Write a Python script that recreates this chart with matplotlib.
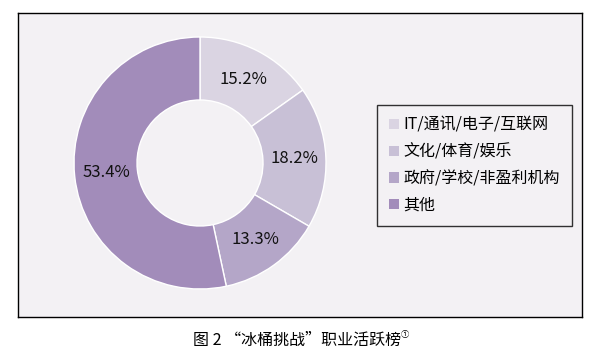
import matplotlib
matplotlib.use("Agg")
import matplotlib.pyplot as plt

# Data
categories = ["IT/通讯/电子/互联网", "文化/体育/娱乐", "政府/学校/非盈利机构", "其他"]
shares = [15.2, 18.2, 13.3, 53.4]
colors = ["#DAD4E2", "#C8C0D6", "#B4A6C8", "#A28CBA"]
caption = "图 2 “冰桶挑战”职业活跃榜"

plt.rcParams["font.family"] = ["Noto Sans CJK SC", "DejaVu Sans"]

W, H = 590, 364
fig = plt.figure(figsize=(W / 100, H / 100), dpi=100)
fig.patch.set_facecolor("white")

# Panel background with border
bg = fig.add_axes([18 / W, 1 - 317 / H, (582 - 18) / W, (317 - 13) / H], zorder=0)
bg.set_facecolor("#F3F1F4")
bg.set_xticks([])
bg.set_yticks([])
for s in bg.spines.values():
    s.set_linewidth(1.0)
    s.set_color("black")

# Donut
cx, cy, r = 200, 163, 126
ax = fig.add_axes([(cx - r) / W, (H - cy - r) / H, 2 * r / W, 2 * r / H], zorder=1)
ax.set_facecolor("none")
wedges, texts, autotexts = ax.pie(
    shares,
    colors=colors,
    startangle=90,
    counterclock=False,
    radius=1,
    autopct=lambda p: "",
    pctdistance=0.75,
    wedgeprops=dict(width=0.5, edgecolor="white", linewidth=1),
)
for t, v in zip(autotexts, shares):
    t.set_text(f"{v:.1f}%")
    t.set_fontsize(12)
    t.set_color("#111111")
ax.set_xlim(-1, 1)
ax.set_ylim(-1, 1)
ax.axis("off")

# Legend
leg = fig.legend(
    wedges, categories,
    loc="upper left",
    bbox_to_anchor=(377 / W, 1 - 105 / H),
    borderaxespad=0,
    frameon=True,
    fancybox=False,
    edgecolor="black",
    facecolor="#F3F1F4",
    fontsize=11.5,
    handlelength=0.6,
    handleheight=0.6,
    handletextpad=0.3,
    labelspacing=0.6,
    borderpad=0.75,
)
leg.set_zorder(3)
leg.get_frame().set_linewidth(1.0)
for h in leg.legend_handles:
    h.set_edgecolor("none")

# Caption with superscript note mark
cap = fig.text(297 / W, 1 - 340 / H, caption, ha="center", va="center", fontsize=11.5)
ax.annotate("①", xy=(1, 0.55), xycoords=cap, fontsize=6, ha="left", va="bottom",
            annotation_clip=False)

fig.savefig("out.png", dpi=100)
